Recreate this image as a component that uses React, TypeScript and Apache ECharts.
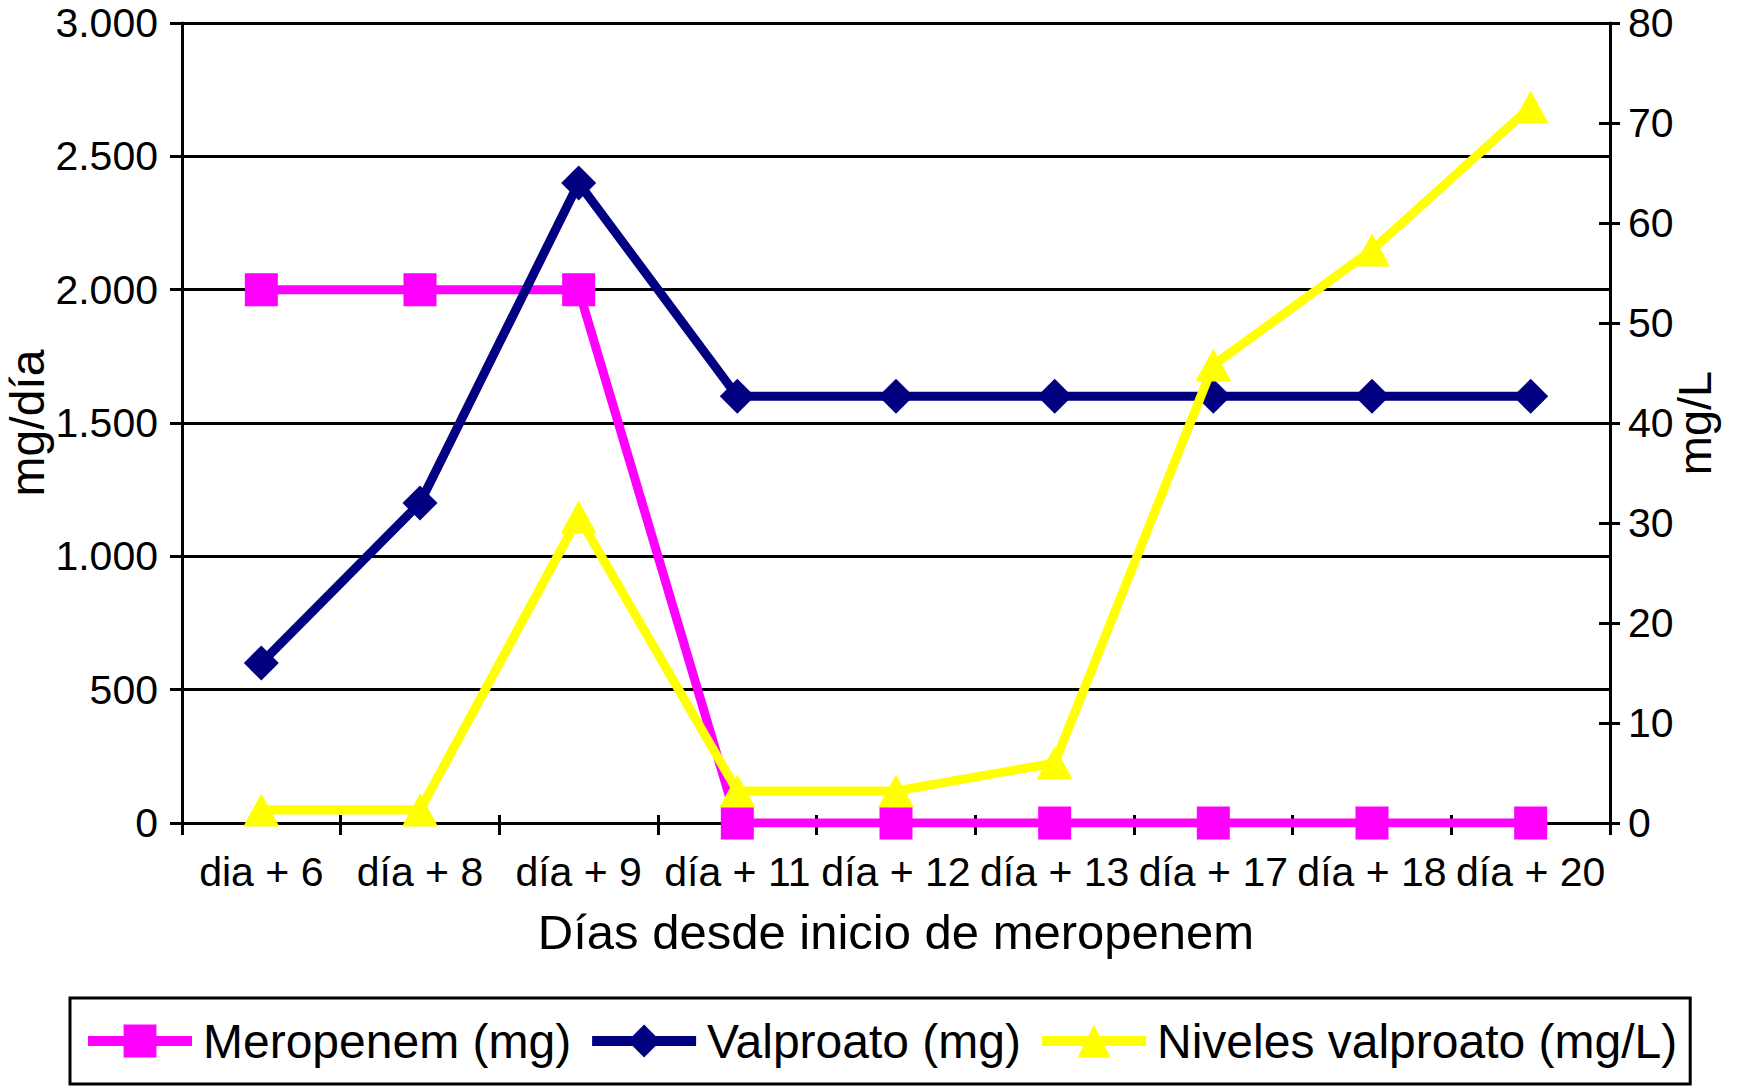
import React, { useEffect, useRef } from "react";
import * as echarts from "echarts";

const categories = ["dia + 6", "día + 8", "día + 9", "día + 11", "día + 12", "día + 13", "día + 17", "día + 18", "día + 20"];
const meropenemMg = [2000, 2000, 2000, 0, 0, 0, 0, 0, 0];
const valproatoMg = [600, 1200, 2400, 1600, 1600, 1600, 1600, 1600, 1600];
const nivelesValproato = [1.3, 1.3, 30.6, 3.2, 3.2, 6, 45.8, 57.3, 71.6];
const seriesNames = ["Meropenem (mg)", "Valproato (mg)", "Niveles valproato (mg/L)"];
const leftMin = 0;
const leftMax = 3000;
const leftStep = 500;
const rightMin = 0;
const rightMax = 80;
const rightStep = 10;
const xTitle = "Días desde inicio de meropenem";
const leftTitle = "mg/día";
const rightTitle = "mg/L";

const FONT = "'Liberation Sans', Arial, Helvetica, sans-serif";

function thousands(v: number): string {
  return String(v).replace(/\B(?=(\d{3})+(?!\d))/g, ".");
}

export default function App() {
  const ref = useRef<HTMLDivElement>(null);
  useEffect(() => {
    if (!ref.current) return;
    const chart = echarts.init(ref.current, undefined, { renderer: "svg" });
    const black = "#000000";
    chart.setOption({
      animation: false,
      backgroundColor: "#ffffff",
      textStyle: { fontFamily: FONT },
      grid: { left: 182, right: 128, top: 23, bottom: 263, containLabel: false, outerBoundsMode: "none" },
      legend: {
        left: 70,
        top: 998,
        orient: "horizontal",
        data: seriesNames,
        itemWidth: 104,
        itemHeight: 41,
        itemGap: 16,
        padding: [19, 13, 19, 13],
        borderColor: black,
        borderWidth: 3,
        borderRadius: 0,
        lineStyle: { width: 10 },
        textStyle: { fontSize: 48, color: black, fontFamily: FONT, padding: [0, 0, 0, 6] },
      },
      xAxis: [
        {
          type: "category",
          data: categories,
          boundaryGap: true,
          position: "bottom",
          name: xTitle,
          nameLocation: "middle",
          nameGap: 84,
          nameMoveOverlap: false,
          nameTextStyle: { fontSize: 49, color: black, fontFamily: FONT },
          axisLine: { show: true, lineStyle: { color: black, width: 3 } },
          axisTick: { show: true, length: 12, lineStyle: { color: black, width: 3 } },
          axisLabel: { fontSize: 41, color: black, margin: 28, interval: 0, fontFamily: FONT },
          splitLine: { show: false },
        },
        {
          type: "category",
          data: categories,
          boundaryGap: true,
          position: "bottom",
          axisLine: { show: false },
          axisTick: { show: true, inside: true, length: 8, lineStyle: { color: black, width: 3 } },
          axisLabel: { show: false },
          splitLine: { show: false },
        },
      ],
      yAxis: [
        {
          type: "value",
          position: "left",
          min: leftMin,
          max: leftMax,
          interval: leftStep,
          name: leftTitle,
          nameLocation: "middle",
          nameGap: 131,
          nameMoveOverlap: false,
          nameTextStyle: { fontSize: 48, color: black, fontFamily: FONT },
          axisLine: { show: true, lineStyle: { color: black, width: 3 } },
          axisTick: { show: true, length: 12, lineStyle: { color: black, width: 3 } },
          axisLabel: { fontSize: 41, color: black, margin: 24, formatter: (v: number) => thousands(v), fontFamily: FONT },
          splitLine: { show: true, lineStyle: { color: black, width: 3 } },
        },
        {
          type: "value",
          position: "right",
          min: rightMin,
          max: rightMax,
          interval: rightStep,
          name: rightTitle,
          nameLocation: "middle",
          nameGap: 61,
          nameMoveOverlap: false,
          nameTextStyle: { fontSize: 47, color: black, fontFamily: FONT },
          axisLine: { show: true, lineStyle: { color: black, width: 3 } },
          axisTick: { show: true, length: 10, lineStyle: { color: black, width: 3 } },
          axisLabel: { fontSize: 41, color: black, margin: 18, fontFamily: FONT },
          splitLine: { show: false },
        },
        {
          type: "value",
          position: "right",
          min: rightMin,
          max: rightMax,
          interval: rightStep,
          axisLine: { show: false },
          axisTick: { show: true, inside: true, length: 11, lineStyle: { color: black, width: 3 } },
          axisLabel: { show: false },
          splitLine: { show: false },
        },
      ],
      series: [
        {
          name: seriesNames[0],
          type: "line",
          xAxisIndex: 0,
          yAxisIndex: 0,
          data: meropenemMg,
          symbol: "rect",
          symbolSize: 33,
          lineStyle: { color: "#FF00FF", width: 9 },
          itemStyle: { color: "#FF00FF" },
          z: 3,
        },
        {
          name: seriesNames[1],
          type: "line",
          xAxisIndex: 0,
          yAxisIndex: 0,
          data: valproatoMg,
          symbol: "diamond",
          symbolSize: 35,
          lineStyle: { color: "#000080", width: 9 },
          itemStyle: { color: "#000080" },
          z: 4,
        },
        {
          name: seriesNames[2],
          type: "line",
          xAxisIndex: 0,
          yAxisIndex: 1,
          data: nivelesValproato,
          symbol: "triangle",
          symbolSize: [36, 33],
          lineStyle: { color: "#FFFF00", width: 9 },
          itemStyle: { color: "#FFFF00" },
          z: 5,
        },
      ],
    });
    return () => chart.dispose();
  }, []);
  return (
    <div
      ref={ref}
      style={{ position: "fixed", left: 0, top: 0, width: 1738, height: 1086, background: "#ffffff" }}
    />
  );
}
